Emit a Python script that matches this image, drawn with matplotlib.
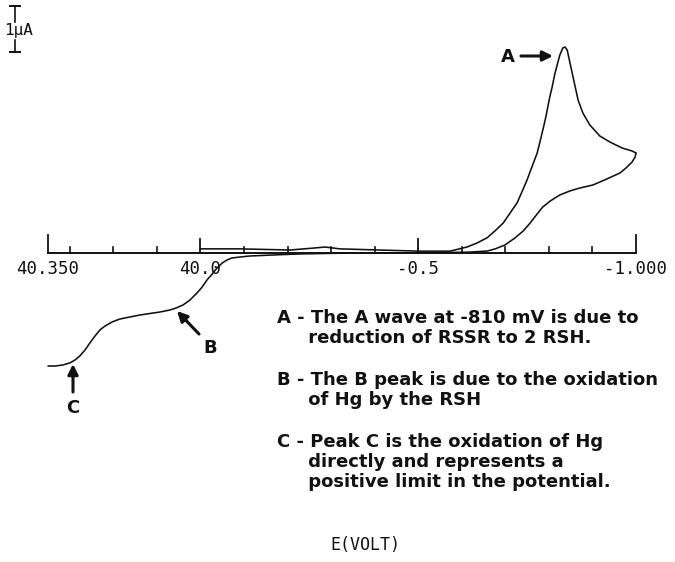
import matplotlib
matplotlib.use("Agg")
import matplotlib.pyplot as plt
import numpy as np

# ---- data (potential in V, current in uA; cathodic current plotted upward)
# forward (cathodic) sweep 0.0 V -> -1.0 V
fwd_E = [0.0, -0.09, -0.206, -0.263, -0.286, -0.32, -0.41, -0.504, -0.573, -0.612,
         -0.635, -0.658, -0.676, -0.695, -0.711, -0.727, -0.738, -0.75, -0.761,
         -0.773, -0.780, -0.786, -0.793, -0.802, -0.807, -0.814, -0.819, -0.825,
         -0.828, -0.832, -0.837, -0.842, -0.848, -0.858, -0.867, -0.878, -0.894,
         -0.917, -0.940, -0.968, -0.991, -1.0]
fwd_I = [0.09, 0.09, 0.065, 0.11, 0.13, 0.09, 0.065, 0.04, 0.04, 0.13,
         0.217, 0.33, 0.478, 0.65, 0.870, 1.09, 1.326, 1.59, 1.870,
         2.17, 2.435, 2.67, 2.957, 3.39, 3.587, 3.91, 4.087, 4.30,
         4.370, 4.457, 4.478, 4.413, 4.152, 3.717, 3.326, 3.043, 2.783,
         2.543, 2.413, 2.283, 2.217, 2.174]

# reverse (anodic) sweep -1.0 V -> +0.35 V
rev_E = [-1.0, -0.998, -0.991, -0.977, -0.963, -0.933, -0.901, -0.871, -0.848,
         -0.825, -0.803, -0.786, -0.773, -0.757, -0.741, -0.722, -0.699, -0.676,
         -0.658, -0.619, -0.504, -0.343, -0.229, -0.167, -0.114, -0.091, -0.072,
         -0.061, -0.050, -0.038, -0.027, -0.015, -0.004, 0.008, 0.024, 0.040,
         0.056, 0.070, 0.093, 0.116, 0.139, 0.162, 0.185, 0.203, 0.219, 0.231,
         0.242, 0.254, 0.265, 0.277, 0.288, 0.300, 0.316, 0.334, 0.35]
rev_I = [2.174, 2.087, 1.978, 1.848, 1.739, 1.609, 1.478, 1.413, 1.348,
         1.261, 1.130, 1.0, 0.848, 0.652, 0.478, 0.326, 0.174, 0.087,
         0.043, 0.02, 0.0, 0.0, -0.02, -0.043, -0.065, -0.087, -0.109,
         -0.152, -0.217, -0.326, -0.457, -0.587, -0.739, -0.870, -1.022, -1.130,
         -1.196, -1.239, -1.283, -1.315, -1.348, -1.391, -1.435, -1.5, -1.587, -1.674,
         -1.804, -1.957, -2.109, -2.239, -2.326, -2.391, -2.435, -2.457, -2.457]

major_ticks = [0.35, 0.0, -0.5, -1.0]
major_labels = ["40.350", "40.0", "-0.5", "-1.000"]
minor_ticks = [0.3, 0.2, 0.1, -0.1, -0.2, -0.3, -0.4, -0.6, -0.7, -0.8, -0.9]

notes = [
    ["A - The A wave at -810 mV is due to", "     reduction of RSSR to 2 RSH."],
    ["B - The B peak is due to the oxidation", "     of Hg by the RSH"],
    ["C - Peak C is the oxidation of Hg", "     directly and represents a",
     "     positive limit in the potential."],
]

W, H = 675, 562
fig = plt.figure(figsize=(W / 100, H / 100), dpi=100)
ax = fig.add_axes([0, 0, 1, 1])
pxV = 588 / 1.35
ax.set_xlim(0.35 + 48 / pxV, 0.35 - (W - 48) / pxV)
ax.set_ylim((253 - H) / 46, 253 / 46)
ax.axis("off")

def P(x, y):
    return (x / W, 1 - y / H)

lw = 1.15
k = "#111111"
ax.plot(fwd_E, fwd_I, color=k, lw=lw, solid_joinstyle="round", solid_capstyle="round")
ax.plot(rev_E, rev_I, color=k, lw=lw, solid_joinstyle="round", solid_capstyle="round")

# axis line and ticks
ax.plot([0.35, -1.0], [0, 0], color=k, lw=1.4)
for t in major_ticks:
    h = 18 / 46 if t in (0.35, -1.0) else 14 / 46
    ax.plot([t, t], [0, h], color=k, lw=1.3)
for t in minor_ticks:
    ax.plot([t, t], [0, 6 / 46], color=k, lw=1.2)
for t, lab in zip(major_ticks, major_labels):
    ax.text(t, -16 / 46, lab, ha="center", va="center", fontsize=12.5,
            family="DejaVu Sans Mono", color=k)

# current scale bar
fig.add_artist(plt.Line2D([15 / W, 15 / W], [1 - 6 / H, 1 - 22 / H], color=k, lw=1.2))
fig.add_artist(plt.Line2D([15 / W, 15 / W], [1 - 40 / H, 1 - 52 / H], color=k, lw=1.2))
for yy in (6, 52):
    fig.add_artist(plt.Line2D([10 / W, 20 / W], [1 - yy / H] * 2, color=k, lw=1.4))
fig.text(*P(19, 31), "1\u00b5A", ha="center", va="center", fontsize=11.5,
         family="DejaVu Sans Mono", color=k)

# peak labels with arrows
arw = dict(arrowstyle="-|>,head_length=0.6,head_width=0.3", color=k, lw=2.2,
           shrinkA=0, shrinkB=0)
lab_kw = dict(ha="center", va="center", fontsize=13, family="DejaVu Sans",
              weight="bold", color=k)
ax.annotate("", xy=P(553, 56), xytext=P(521, 56), xycoords="figure fraction",
            textcoords="figure fraction", arrowprops=arw)
fig.text(*P(508, 57), "A", **lab_kw)
ax.annotate("", xy=P(177, 311), xytext=P(199, 334), xycoords="figure fraction",
            textcoords="figure fraction", arrowprops=arw)
fig.text(*P(210, 348), "B", **lab_kw)
ax.annotate("", xy=P(73, 364), xytext=P(73, 392), xycoords="figure fraction",
            textcoords="figure fraction", arrowprops=arw)
fig.text(*P(73, 408), "C", **lab_kw)

# explanatory notes
line_y = [[318, 338], [380, 400], [442, 462, 482]]
for ys, lines in zip(line_y, notes):
    for y, t in zip(ys, lines):
        fig.text(*P(277, y), t, ha="left", va="center", fontsize=13,
                 family="DejaVu Sans", weight="bold", color=k)

fig.text(*P(330, 545), "E(VOLT)", ha="left", va="center", fontsize=12,
         family="DejaVu Sans Mono", color=k)

fig.savefig("out.png", dpi=100)
